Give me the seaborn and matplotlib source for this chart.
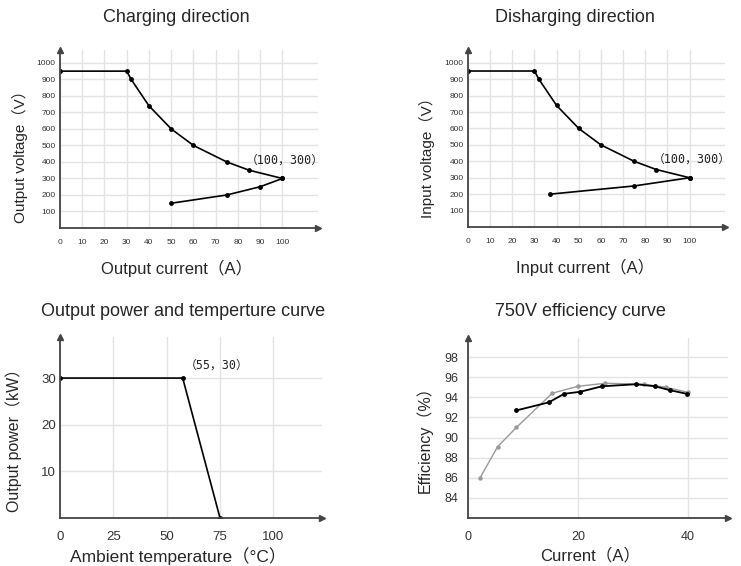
import matplotlib
matplotlib.use("Agg")
import matplotlib.pyplot as plt
import seaborn as sns
import pandas as pd

sns.set_theme(style="white")
plt.rcParams['font.family'] = ['Liberation Sans', 'Noto Sans CJK SC', 'DejaVu Sans']

# ---------------- data ----------------
chg_upper_i = [0, 30, 32, 40, 50, 60, 75, 85, 100]
chg_upper_v = [950, 950, 900, 740, 600, 500, 400, 350, 300]
chg_lower_i = [50, 75, 90, 100]
chg_lower_v = [150, 200, 250, 300]

dis_upper_i = [0, 30, 32, 40, 50, 60, 75, 85, 100]
dis_upper_v = [950, 950, 900, 740, 600, 500, 400, 350, 300]
dis_lower_i = [37, 75, 100]
dis_lower_v = [200, 250, 300]

temp_c = [0, 57.5, 75]
power_kw = [30, 30, 0]

eff_gray_i = [2.2, 5.4, 8.8, 15.3, 20, 25, 32, 36, 40]
eff_gray_e = [86.0, 89.1, 91.0, 94.4, 95.1, 95.4, 95.3, 95.0, 94.5]
eff_black_i = [8.8, 14.7, 17.5, 20.4, 24.4, 30.6, 34, 36.8, 39.8]
eff_black_e = [92.7, 93.5, 94.35, 94.55, 95.1, 95.3, 95.1, 94.7, 94.35]

vi_xticks = [0, 10, 20, 30, 40, 50, 60, 70, 80, 90, 100]
vi_yticks = [100, 200, 300, 400, 500, 600, 700, 800, 900, 1000]
t_xticks = [0, 25, 50, 75, 100]
t_yticks = [10, 20, 30]
e_xticks = [0, 20, 40]
e_yticks = [84, 86, 88, 90, 92, 94, 96, 98]

W, H = 741, 566
fig = plt.figure(figsize=(W / 100, H / 100), dpi=100)


def add_ax(left, top, right, bottom):
    return fig.add_axes([left / W, 1 - bottom / H, (right - left) / W, (bottom - top) / H])


AX_COL = '#444444'
GRID_COL = '#e3e3e3'


def style(ax, xlim, ylim, xticks, yticks, tsize, xpad, ypad):
    ax.set_xlim(*xlim)
    ax.set_ylim(*ylim)
    ax.set_xticks(xticks)
    ax.set_yticks(yticks)
    ax.grid(True, color=GRID_COL, linewidth=1.0)
    ax.set_axisbelow(True)
    for s in ['top', 'right']:
        ax.spines[s].set_visible(False)
    for s in ['left', 'bottom']:
        ax.spines[s].set_color(AX_COL)
        ax.spines[s].set_linewidth(1.3)
    ax.tick_params(length=0, labelsize=tsize, colors='#333333')
    ax.tick_params(axis='x', pad=xpad)
    ax.tick_params(axis='y', pad=ypad)
    ax.plot(1, 0, '>', color=AX_COL, markersize=4, transform=ax.transAxes, clip_on=False)
    ax.plot(0, 1, '^', color=AX_COL, markersize=4, transform=ax.transAxes, clip_on=False)


def line(ax, x, y, color='black', lw=1.2, ms=3.5):
    sns.lineplot(x=x, y=y, ax=ax, color=color, linewidth=lw, marker='o',
                 markersize=ms, markeredgewidth=0, sort=False, estimator=None)


def labels(ax, xl, yl, xsize, ysize, xc, yc):
    ax.set_xlabel(xl, fontsize=xsize, va='center')
    ax.set_ylabel(yl, fontsize=ysize)
    ax.xaxis.set_label_coords(*xc)
    ax.yaxis.set_label_coords(*yc)


ann_font = ['DejaVu Sans Mono', 'Noto Sans CJK SC']

# ---- Charging direction ----
ax1 = add_ax(60, 50, 318, 228)
style(ax1, (0, 116), (0, 1078), vi_xticks, vi_yticks, 6, 8, 3)
line(ax1, chg_upper_i, chg_upper_v)
line(ax1, chg_lower_i, chg_lower_v)
ax1.text(101, 412, '（100，300）', fontsize=8.5, ha='center', va='center', family=ann_font, color='#222222')
labels(ax1, 'Output current（A）', 'Output voltage（V）', 12, 11, (0.453, -0.225), (-0.124, 0.42))
fig.text(176 / W, 1 - 18 / H, 'Charging direction', fontsize=13, ha='center', va='center')

# ---- Discharging direction ----
ax2 = add_ax(468, 50, 725, 227)
style(ax2, (0, 116), (0, 1078), vi_xticks, vi_yticks, 6, 8, 3)
line(ax2, dis_upper_i, dis_upper_v)
line(ax2, dis_lower_i, dis_lower_v)
ax2.text(101, 412, '（100，300）', fontsize=8.5, ha='center', va='center', family=ann_font, color='#222222')
labels(ax2, 'Input current（A）', 'Input voltage（V）', 12, 11, (0.455, -0.226), (-0.13, 0.415))
fig.text(575 / W, 1 - 18 / H, 'Disharging direction', fontsize=13, ha='center', va='center')

# ---- Output power vs temperature ----
ax3 = add_ax(60, 337, 322, 518)
style(ax3, (0, 122.8), (0, 38.8), t_xticks, t_yticks, 9.5, 9, 3)
line(ax3, temp_c, power_kw)
ax3.text(73.6, 32.8, '（55，30）', fontsize=8.5, ha='center', va='center', family=ann_font, color='#222222')
labels(ax3, 'Ambient temperature（°C）', 'Output power（kW）', 12.5, 11.5, (0.45, -0.213), (-0.145, 0.45))
fig.text(183 / W, 1 - 312 / H, 'Output power and temperture curve', fontsize=13, ha='center', va='center')

# ---- Efficiency ----
ax4 = add_ax(468, 338, 728, 518)
style(ax4, (0, 47.3), (82, 99.9), e_xticks, e_yticks, 9, 9, 7)
line(ax4, eff_gray_i, eff_gray_e, color='#999999', lw=1.0, ms=3.2)
line(ax4, eff_black_i, eff_black_e, color='black', lw=1.3, ms=3.5)
labels(ax4, 'Current（A）', 'Efficiency（%）', 12, 11.5, (0.47, -0.208), (-0.135, 0.455))
fig.text(580 / W, 1 - 312 / H, '750V efficiency curve', fontsize=13, ha='center', va='center')

fig.savefig('out.png', dpi=100)
